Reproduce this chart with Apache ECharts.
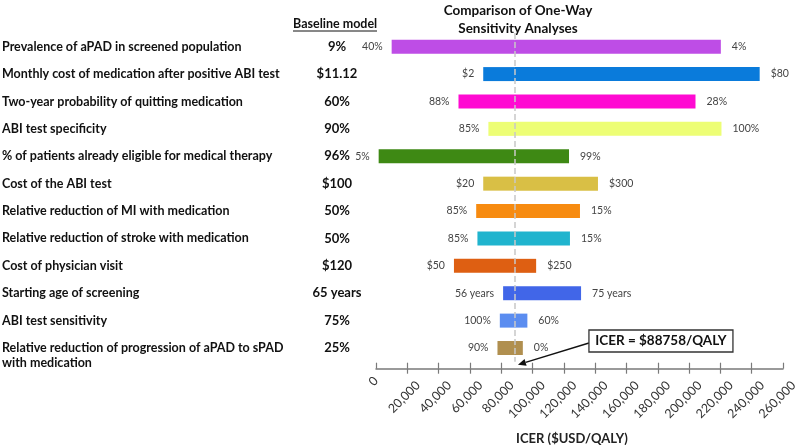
<!DOCTYPE html>
<html>
<head>
<meta charset="utf-8">
<script src="https://cdn.jsdelivr.net/npm/echarts@6/dist/echarts.min.js"></script>
<style>html,body{margin:0;padding:0;background:#fff}#c{width:800px;height:445px}</style>
</head>
<body>
<div id="c"></div>
<script>
var categories = [
  'Prevalence of aPAD in screened population',
  'Monthly cost of medication after positive ABI test',
  'Two-year probability of quitting medication',
  'ABI test specificity',
  '% of patients already eligible for medical therapy',
  'Cost of the ABI test',
  'Relative reduction of MI with medication',
  'Relative reduction of stroke with medication',
  'Cost of physician visit',
  'Starting age of screening',
  'ABI test sensitivity',
  'Relative reduction of progression of aPAD to sPAD\nwith medication'
];
var baselineValues = ['9%', '$11.12', '60%', '90%', '96%', '$100', '50%', '50%', '$120', '65 years', '75%', '25%'];
var leftIcer  = [10000, 68500, 52700, 71800, 1700, 68500, 64000, 64800, 49800, 81200, 79100, 77600];
var rightIcer = [220300, 245100, 204100, 220700, 123300, 141800, 130300, 123900, 102300, 131000, 96700, 93800];
var leftLabels  = ['40%', '$2', '88%', '85%', '5%', '$20', '85%', '85%', '$50', '56 years', '100%', '90%'];
var rightLabels = ['4%', '$80', '28%', '100%', '99%', '$300', '15%', '15%', '$250', '75 years', '60%', '0%'];
var barColors = ['#BE4DE6', '#0A7BDB', '#FF0AD2', '#EDFE75', '#3E8914', '#D9BF45', '#F78B10', '#20B4CE', '#DE5F12', '#4166E8', '#5B8DF0', '#B08F4F'];
var baselineIcer = 88758;
var xTicks = { min: 0, max: 260000, interval: 20000 };

var FONT = 'Lato';
var chart = echarts.init(document.getElementById('c'));

var baseData = leftIcer.map(function (v) { return v; });
var lowData = leftIcer.map(function (v, i) {
  return { value: baselineIcer - v, itemStyle: { color: barColors[i] } };
});
var highData = rightIcer.map(function (v, i) {
  return { value: v - baselineIcer, itemStyle: { color: barColors[i] } };
});
function fmt(v) { return v.toLocaleString('en-US'); }

var option = {
  animation: false,
  backgroundColor: '#fff',
  title: {
    text: 'Comparison of One-Way\nSensitivity Analyses',
    left: 513, top: -3, textAlign: 'center',
    textStyle: { fontFamily: FONT, fontWeight: 'bold', fontSize: 13.5, color: '#111', lineHeight: 18 }
  },
  grid: { left: 376, right: 17, top: 33, height: 328.7, containLabel: false, outerBoundsMode: 'none' },
  xAxis: [{
    type: 'value', min: xTicks.min, max: xTicks.max, interval: xTicks.interval,
    position: 'bottom', offset: 7,
    name: 'ICER ($USD/QALY)', nameLocation: 'middle', nameGap: 64, nameMoveOverlap: false,
    nameTextStyle: { fontFamily: FONT, fontWeight: 'bold', fontSize: 13, color: '#222', padding: [0, 15, 0, 0] },
    axisLine: { show: true, lineStyle: { color: '#7a7a7a', width: 1.5 } },
    axisTick: { show: true, length: 5, lineStyle: { color: '#7a7a7a', width: 1.2 } },
    splitLine: { show: false },
    axisLabel: {
      rotate: 45, margin: 4, verticalAlign: 'top', lineHeight: 30, hideOverlap: false,
      fontFamily: FONT, fontSize: 12.5, color: '#333',
      formatter: function (v) { return fmt(v); }
    }
  }, {
    type: 'value', min: xTicks.min, max: xTicks.max, interval: xTicks.interval,
    position: 'bottom', offset: 7,
    axisLine: { show: false },
    axisTick: { show: true, inside: true, length: 6, lineStyle: { color: '#7a7a7a', width: 1.2 } },
    axisLabel: {
      show: true, rotate: 45, margin: 10, hideOverlap: false,
      fontFamily: FONT, fontSize: 12.5, color: '#333',
      formatter: function (v) { return v === xTicks.min ? fmt(v) : ''; }
    },
    splitLine: { show: false }
  }, {
    type: 'value', min: xTicks.min, max: xTicks.max, interval: xTicks.interval,
    position: 'bottom', offset: 7,
    axisLine: { show: false }, axisTick: { show: false }, splitLine: { show: false },
    axisLabel: {
      show: true, rotate: 45, margin: 4, verticalAlign: 'top', lineHeight: 30, hideOverlap: false,
      fontFamily: FONT, fontSize: 12.5, color: '#333',
      formatter: function (v) { return v === xTicks.max ? fmt(v) : ''; }
    }
  }],
  yAxis: [{
    type: 'category', inverse: true, data: categories, position: 'left',
    axisLine: { show: false }, axisTick: { show: false },
    axisLabel: {
      interval: 0, align: 'left', margin: 374, lineHeight: 15,
      fontFamily: FONT, fontWeight: 'bold', fontSize: 12.5, color: '#111',
      formatter: function (v) {
        return v.indexOf('\n') >= 0 ? ' \n' + v : v;
      }
    }
  }, {
    type: 'category', inverse: true, data: categories, position: 'left',
    axisLine: { show: false }, axisTick: { show: false },
    axisLabel: {
      interval: 0, align: 'center', margin: 39, fontFamily: FONT, fontWeight: 'bold', fontSize: 13, color: '#111',
      formatter: function (v, i) { return baselineValues[i]; }
    }
  }],
  series: [{
    name: 'base', type: 'bar', stack: 't', barWidth: 14, xAxisIndex: 0, yAxisIndex: 0,
    itemStyle: { color: 'rgba(0,0,0,0)' }, silent: true,
    data: baseData
  }, {
    name: 'low', type: 'bar', stack: 't', barWidth: 14, xAxisIndex: 0, yAxisIndex: 0,
    data: lowData,
    label: {
      show: true, position: 'left', distance: 9, fontFamily: FONT, fontSize: 10.5, color: '#444',
      formatter: function (p) { return leftLabels[p.dataIndex]; }
    }
  }, {
    name: 'high', type: 'bar', stack: 't', barWidth: 14, xAxisIndex: 0, yAxisIndex: 0,
    data: highData,
    label: {
      show: true, position: 'right', distance: 11, fontFamily: FONT, fontSize: 10.5, color: '#444',
      formatter: function (p) { return rightLabels[p.dataIndex]; }
    },
    markLine: {
      silent: true, symbol: 'none', z: 10,
      label: { show: false },
      lineStyle: { color: '#c8c8c8', type: 'dashed', width: 1.5 },
      data: [{ xAxis: baselineIcer }]
    }
  }]
};
chart.setOption(option);

// Annotation box + arrow, positioned from the data scale
var basePx = chart.convertToPixel({ xAxisIndex: 0 }, baselineIcer);
var lastRowPx = chart.convertToPixel({ yAxisIndex: 0 }, categories[categories.length - 1]);
var axisY = lastRowPx + 13.7 + 7;
var tip = [basePx + 3, axisY - 4];
var boxW = 144, boxH = 22;
var boxX = basePx + 74, boxY = lastRowPx - 18;
var start = [boxX, boxY + 13];
var ang = Math.atan2(tip[1] - start[1], tip[0] - start[0]);
var hl = 8, hw = 3.5;
var bx = tip[0] - hl * Math.cos(ang), by = tip[1] - hl * Math.sin(ang);
var head = [
  tip,
  [bx + hw * Math.sin(ang), by - hw * Math.cos(ang)],
  [bx - hw * Math.sin(ang), by + hw * Math.cos(ang)]
];
chart.setOption({
  graphic: [
    { type: 'text', left: 293, top: 17, style: { text: 'Baseline model', font: 'bold 12.5px ' + FONT, fill: '#111' } },
    { type: 'line', shape: { x1: 293, y1: 31, x2: 377, y2: 31 }, style: { stroke: '#111', lineWidth: 1 } },
    { type: 'line', z: 20, shape: { x1: start[0], y1: start[1], x2: bx, y2: by }, style: { stroke: '#111', lineWidth: 1.5 } },
    { type: 'polygon', z: 20, shape: { points: head }, style: { fill: '#111' } },
    { type: 'rect', z: 20, shape: { x: boxX, y: boxY, width: boxW, height: boxH }, style: { fill: '#fff', stroke: '#333', lineWidth: 1.3 } },
    { type: 'text', z: 21, x: boxX + boxW / 2, y: boxY + boxH / 2,
      style: { text: 'ICER = $88758/QALY', font: 'bold 13.5px ' + FONT, fill: '#111', textAlign: 'center', textVerticalAlign: 'middle' } }
  ]
});
</script>
</body>
</html>
